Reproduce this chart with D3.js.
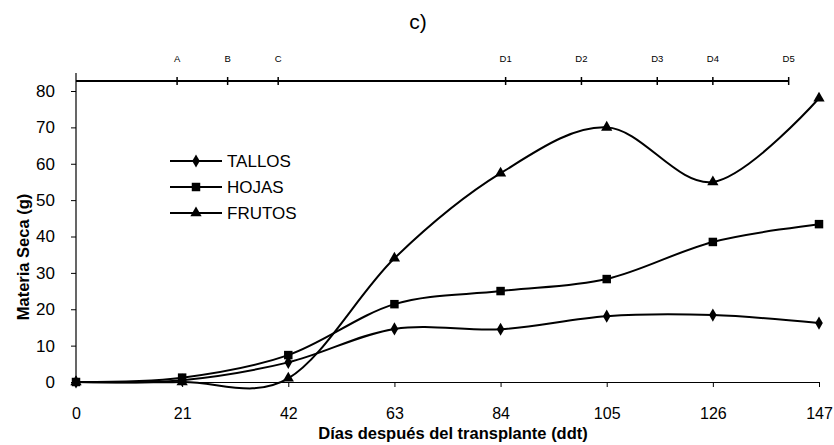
<!DOCTYPE html>
<html>
<head>
<meta charset="utf-8">
<script src="https://cdn.jsdelivr.net/npm/d3@7"></script>
<style>
  body { margin: 0; background: #fff; }
  svg { display: block; font-family: "Liberation Sans", Arial, sans-serif; }
</style>
</head>
<body>
<svg id="chart" width="834" height="445"></svg>
<script>
// data
const days = [0, 21, 42, 63, 84, 105, 126, 147];
const tallos = [0, 0.5, 5.4, 14.6, 14.5, 18.1, 18.4, 16.2];
const hojas = [0, 1.2, 7.4, 21.4, 25.0, 28.3, 38.5, 43.4];
const frutos = [0, 0, 1.0, 34.0, 57.4, 70.0, 55.0, 78.0];
const yTicks = [0, 10, 20, 30, 40, 50, 60, 70, 80];
const stageNames = ['A', 'B', 'C', 'D1', 'D2', 'D3', 'D4', 'D5'];
const stageDays = [20, 30, 40, 85, 100, 115, 126, 141];

const series = [
    { name: 'TALLOS', values: tallos, symbol: d3.symbolDiamond, size: 50 },
    { name: 'HOJAS', values: hojas, symbol: d3.symbolSquare, size: 72 },
    { name: 'FRUTOS', values: frutos, symbol: d3.symbolTriangle, size: 55 }
];

const svg = d3.select('#chart');
const x = d3.scaleLinear().domain([0, 147]).range([76, 819]);
const y = d3.scaleLinear().domain([0, 80]).range([382, 91]);
const topY = 81;

// title
svg.append('text')
    .attr('x', 418).attr('y', 29)
    .attr('text-anchor', 'middle')
    .style('font-size', '21px')
    .text('c)');

// x axis
const xAxis = svg.append('g')
    .attr('transform', `translate(0,${y(0)})`)
    .call(d3.axisBottom(x).tickValues(days).tickSize(5).tickPadding(21).tickSizeOuter(0));
xAxis.select('.domain').attr('stroke-width', 1.2);
xAxis.selectAll('text').style('font-size', '16px').attr('fill', '#000');

// y axis (runs up to the stage line)
const yAxis = svg.append('g')
    .attr('transform', `translate(${x(0)},0)`)
    .call(d3.axisLeft(y).tickValues(yTicks).tickSize(5).tickPadding(16).tickSizeOuter(0));
yAxis.select('.domain').remove();
yAxis.selectAll('text').style('font-size', '17px').attr('fill', '#000');
svg.append('line')
    .attr('x1', x(0)).attr('x2', x(0))
    .attr('y1', topY - 8).attr('y2', y(0))
    .attr('stroke', '#000').attr('stroke-width', 1.2);

// stage axis on top
svg.append('line')
    .attr('x1', x(0)).attr('x2', x(stageDays[stageDays.length - 1]))
    .attr('y1', topY).attr('y2', topY)
    .attr('stroke', '#000').attr('stroke-width', 2);
const stages = svg.selectAll('g.stage')
    .data(stageDays)
    .enter().append('g')
    .attr('class', 'stage')
    .attr('transform', d => `translate(${x(d)},${topY})`);
stages.append('line')
    .attr('y1', -4).attr('y2', 4)
    .attr('stroke', '#000').attr('stroke-width', 1.5);
stages.append('text')
    .attr('y', -19)
    .attr('text-anchor', 'middle')
    .style('font-size', '9.5px')
    .text((d, i) => stageNames[i]);

// axis titles
svg.append('text')
    .attr('x', 453).attr('y', 439)
    .attr('text-anchor', 'middle')
    .style('font-size', '16.5px').style('font-weight', 'bold')
    .text('Días después del transplante (ddt)');
svg.append('text')
    .attr('transform', 'translate(29,257) rotate(-90)')
    .attr('text-anchor', 'middle')
    .style('font-size', '16.5px').style('font-weight', 'bold')
    .text('Materia Seca (g)');

// lines
const line = d3.line()
    .x((d, i) => x(days[i]))
    .y(d => y(d))
    .curve(d3.curveCardinal.tension(0));

series.forEach(s => {
    svg.append('path')
        .datum(s.values)
        .attr('d', line)
        .attr('fill', 'none')
        .attr('stroke', '#000')
        .attr('stroke-width', 2);
});
series.forEach(s => {
    svg.append('g').selectAll('path')
        .data(s.values)
        .enter().append('path')
        .attr('transform', (d, i) => `translate(${x(days[i])},${y(d)})`)
        .attr('d', d3.symbol().type(s.symbol).size(s.size))
        .attr('fill', '#000');
});

// legend
const legend = svg.append('g')
    .selectAll('g')
    .data(series)
    .enter().append('g')
    .attr('transform', (d, i) => `translate(170,${161 + i * 26})`);
legend.append('line')
    .attr('x1', 0).attr('x2', 52)
    .attr('stroke', '#000').attr('stroke-width', 2);
legend.append('path')
    .attr('transform', 'translate(26,0)')
    .attr('d', d => d3.symbol().type(d.symbol).size(d.size)())
    .attr('fill', '#000');
legend.append('text')
    .attr('x', 57).attr('y', 6)
    .style('font-size', '17px')
    .text(d => d.name);
</script>
</body>
</html>
